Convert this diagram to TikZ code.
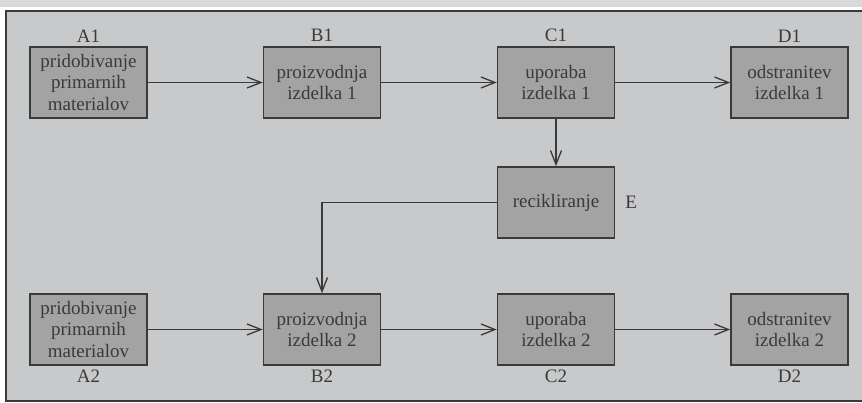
\documentclass[tikz,border=0pt]{standalone}
\usepackage{fontspec}
\setmainfont{Liberation Serif}
\usepackage{tikz}
\usetikzlibrary{arrows.meta}
\definecolor{panel}{RGB}{200,201,203}
\definecolor{boxfill}{RGB}{163,163,163}
\definecolor{ink}{RGB}{58,58,58}
\definecolor{band}{RGB}{216,217,219}
\tikzset{stage/.style={draw=ink,fill=boxfill,line width=1.5pt,minimum width=117pt,minimum height=71pt,inner sep=0pt,align=center,text=ink,font=\fontsize{19}{21.5}\selectfont}}
\tikzset{lbl/.style={inner sep=0pt,text=ink,font=\fontsize{19}{21.5}\selectfont}}
\tikzset{flow/.style={draw=ink,line width=1.5pt,-{Straight Barb[length=14pt,width=11pt,line width=1.3pt]}}}

\begin{document}
\begin{tikzpicture}[x=1pt,y=-1pt,label distance=4pt]
          \useasboundingbox (0,0) rectangle (862,403);
          \fill[band] (0,0) rectangle (862,7);
          \filldraw[draw=ink,fill=panel,line width=1.5pt] (6,11) rectangle (875,401);
          % zgornja vrsta
          \node[stage,label={[lbl]above:A1}] (A1) at (88.5,82.5) {pridobivanje\\primarnih\\materialov};
          \node[stage,label={[lbl]above:B1}] (B1) at (322,82.5) {proizvodnja\\izdelka 1};
          \node[stage,label={[lbl]above:C1}] (C1) at (556,82.5) {uporaba\\izdelka 1};
          \node[stage,label={[lbl]above:D1}] (D1) at (789.5,82.5) {odstranitev\\izdelka 1};
          \node[stage,label={[lbl,label distance=10pt]right:E}] (E) at (556,202.5) {recikliranje};
          % spodnja vrsta
          \node[stage,label={[lbl]below:A2}] (A2) at (88.5,329.5) {pridobivanje\\primarnih\\materialov};
          \node[stage,label={[lbl]below:B2}] (B2) at (322,329.5) {proizvodnja\\izdelka 2};
          \node[stage,label={[lbl]below:C2}] (C2) at (556,329.5) {uporaba\\izdelka 2};
          \node[stage,label={[lbl]below:D2}] (D2) at (789.5,329.5) {odstranitev\\izdelka 2};
          \draw[flow] (A1) -- (B1);
          \draw[flow] (B1) -- (C1);
          \draw[flow] (C1) -- (D1);
          \draw[flow] (C1) -- (E);
          \draw[flow] (E.west) -| (B2.north);
          \draw[flow] (A2) -- (B2);
          \draw[flow] (B2) -- (C2);
          \draw[flow] (C2) -- (D2);
        \end{tikzpicture}
\end{document}
